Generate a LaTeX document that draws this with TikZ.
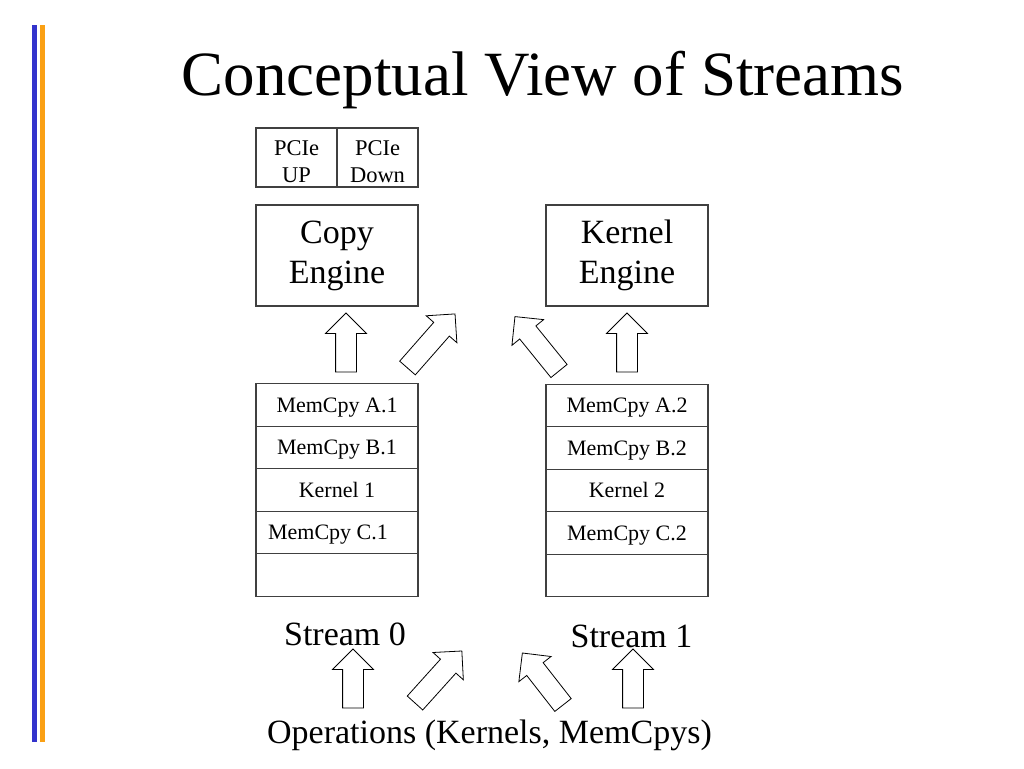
\documentclass[tikz,border=0pt]{standalone}
\usepackage{fontspec}
\setmainfont{Liberation Serif}
\usetikzlibrary{positioning}
\usetikzlibrary{shapes.arrows}

\definecolor{barblue}{RGB}{51,51,204}
\definecolor{barorange}{RGB}{250,160,20}

\begin{document}
\begin{tikzpicture}[
            x = 1pt, y = -1pt, % pixel grid, y grows downwards
            node distance = 42.5pt, % height of one stream slot
            outer sep = 0pt,
            semithick
        ]

        \tikzstyle{box}=[
            draw = black!75,
            line width = 1.2pt,
            inner sep = 0pt
        ]
        \tikzstyle{engine}=[box,
            minimum width = 162pt,
            minimum height = 101pt,
            align = center,
            font = \fontsize{34}{40}\selectfont
        ]
        \tikzstyle{pcie}=[box,
            minimum width = 81pt,
            minimum height = 59pt,
            align = center,
            text height = 49pt,
            text depth = 0pt,
            font = \fontsize{22.5}{27}\selectfont
        ]
        \tikzstyle{slot}=[box,
            minimum width = 162pt,
            minimum height = 42.5pt,
            text height = 14.5pt,
            text depth = 0pt,
            font = \fontsize{22}{26}\selectfont
        ]
        \tikzstyle{bigarrow}=[
            single arrow,
            draw = black,
            line width = 0.8pt,
            inner xsep = 0pt,
            inner ysep = 10pt,
            single arrow head extend = 10pt,
            anchor = tail
        ]
        \tikzstyle{label}=[
            anchor = base,
            font = \fontsize{34}{40}\selectfont
        ]

        % side bars
        \fill[barblue] (32,25) rectangle (37,742);
        \fill[barorange] (40,25) rectangle (45,742);

        % title
        \node[anchor = base, font = \fontsize{63}{70}\selectfont] (title) at (543,95) {Conceptual View of Streams};

        % engines
        \node[pcie] (UP) at (296.5,157.5) {PCIe\\UP};
        \node[pcie] (DOWN) [right of = UP, node distance = 81pt] {PCIe\\Down};

        \node[engine] (CE) at (337,255.5) {Copy\\Engine};
        \node[engine] (KE) at (627,255.5) {Kernel\\Engine};

        % issue arrows (placed by their tails)
        \node[bigarrow, minimum height = 59pt, rotate = 90] (CE0) at (346,372) {};
        \node[bigarrow, minimum height = 72pt, rotate = 48.7] (CE1) at (407.5,368) {};
        \node[bigarrow, minimum height = 70pt, rotate = 129] (KE0) at (559,371) {};
        \node[bigarrow, minimum height = 59pt, rotate = 90] (KE1) at (627,372) {};

        % stream 0
        \node[slot] (A1) at (337,405) {MemCpy A.1};
        \node[slot] (B1) [below of = A1] {MemCpy B.1};
        \node[slot] (K1) [below of = B1] {Kernel 1};
        \node[slot] (C1) [below of = K1] {\hspace*{-18pt}MemCpy C.1};
        \node[slot] (E1) [below of = C1] {};

        % stream 1
        \node[slot] (A2) at (627,405.5) {MemCpy A.2};
        \node[slot] (B2) [below of = A2] {MemCpy B.2};
        \node[slot] (K2) [below of = B2] {Kernel 2};
        \node[slot] (C2) [below of = K2] {MemCpy C.2};
        \node[slot] (E2) [below of = C2] {};

        \node[label] (S0) at (345,645) {Stream 0};
        \node[label] (S1) at (631.5,647) {Stream 1};

        % enqueue arrows
        \node[bigarrow, minimum height = 59pt, rotate = 90] (OP0) at (353,708) {};
        \node[bigarrow, minimum height = 70pt, rotate = 48] (OP1) at (415,703) {};
        \node[bigarrow, minimum height = 66pt, rotate = 128] (OP2) at (563,705) {};
        \node[bigarrow, minimum height = 59pt, rotate = 90] (OP3) at (633,708) {};

        \node[label] (OPS) at (489.5,743) {Operations (Kernels, MemCpys)};

        \useasboundingbox (0,0) rectangle (1024,768);
\end{tikzpicture}
\end{document}
